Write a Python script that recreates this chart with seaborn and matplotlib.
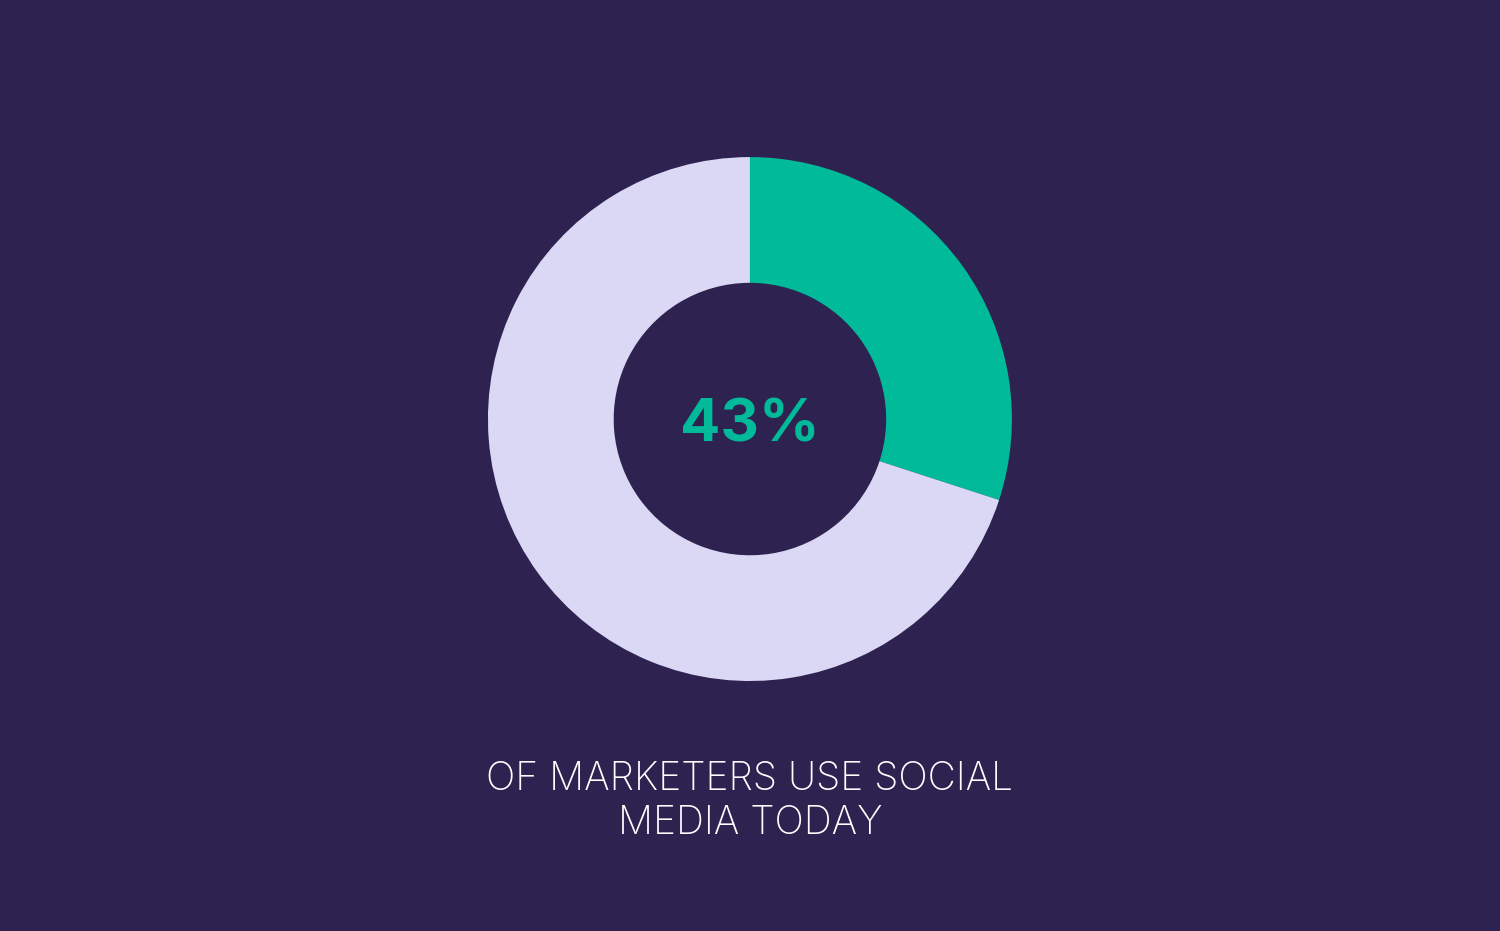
import matplotlib
matplotlib.use("Agg")
import matplotlib.pyplot as plt
import seaborn as sns

# chart data
labels = ["Social media", "Other"]
shares = [30, 70]
colors = ["#00BA9A", "#DAD8F5"]
headline = "43%"
caption = "OF MARKETERS USE SOCIAL\nMEDIA TODAY"

bg = "#2E2350"

sns.set_theme(style="white")
plt.rcParams["font.family"] = ["Inter", "DejaVu Sans"]

fig = plt.figure(figsize=(15, 9.31), dpi=100, facecolor=bg)
ax = fig.add_axes([0.3253, 0.2685, 0.3493, 0.5628])
ax.set_facecolor(bg)

ax.pie(shares, colors=colors, startangle=90, counterclock=False, radius=1,
       wedgeprops=dict(width=0.48, edgecolor="none"))
ax.set_xlim(-1, 1)
ax.set_ylim(-1, 1)
ax.axis("off")

ax.text(0, -0.027, headline, ha="center", va="center", fontsize=43,
        fontweight="bold", color=colors[0])

fig.text(0.5, 0.1395, caption, ha="center", va="center", fontsize=28,
         fontweight="light", color="white", linespacing=1.25)

fig.savefig("out.png", dpi=100, facecolor=bg)
